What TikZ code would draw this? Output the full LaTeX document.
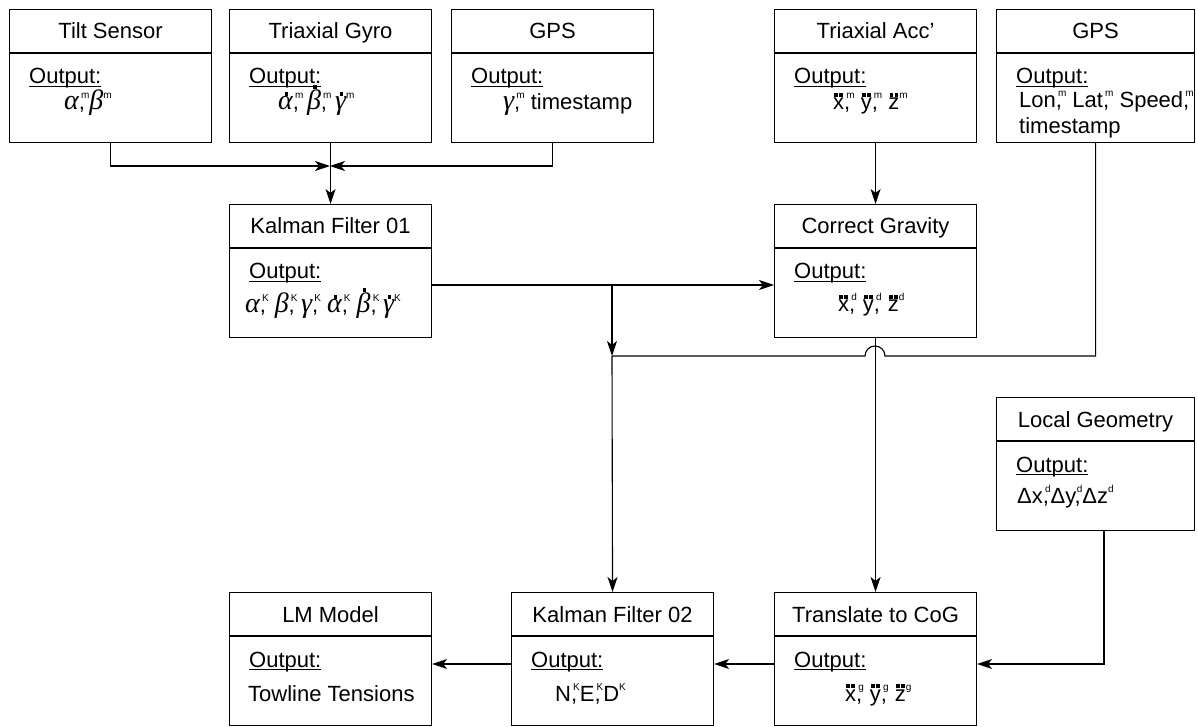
\documentclass[tikz,border=0pt]{standalone}
\usepackage{fontspec}
\setmainfont{Liberation Sans}
\newfontfamily\grkfont{Liberation Serif}
\usetikzlibrary{arrows.meta}
\newcommand\gk[1]{{\fontsize{28}{30}\selectfont\grkfont\itshape #1}}
\newcommand\supx[1]{\raisebox{0.5em}{\fontsize{10}{10}\selectfont #1}}
\newcommand\csup[1]{,\kern-4pt\supx{#1}}
\newcommand\ulout[1]{\leavevmode\setbox0=\hbox{#1}\rlap{\rule[-2.6pt]{\wd0}{1pt}}\box0}
\newcommand\onedot[1]{\leavevmode\setbox0=\hbox{#1}\vbox{\offinterlineskip\hbox to\wd0{\hss\kern2pt\rule{3.6pt}{3.6pt}\hss}\kern1.2pt\box0}}
\newcommand\twodot[1]{\leavevmode\setbox0=\hbox{#1}\vbox{\offinterlineskip\hbox to\wd0{\hss\rule{3.6pt}{3.6pt}\kern1.4pt\rule{3.6pt}{3.6pt}\hss}\kern1.5pt\box0}}
\tikzset{
  bx/.style={draw, line width=1.1pt, minimum width=202pt, minimum height=133pt, anchor=north west, inner sep=0pt},
  ttl/.style={anchor=base, inner sep=0pt, font=\fontsize{22}{26}\selectfont},
  outl/.style={anchor=base west, inner sep=0pt, font=\fontsize{22}{26}\selectfont},
  val/.style={anchor=base west, inner sep=0pt, font=\fontsize{22}{26}\selectfont},
  conn/.style={line width=1.1pt},
  arr/.style={line width=1.1pt, -{Stealth[length=15pt, width=10pt, inset=4pt]}}
}
\newcommand\mkbox[4]{%
  \node[bx, #4] (#1) at #2 {};
  \node[ttl] (#1t) at ([yshift=-30pt]#1.north) {#3};
  \draw[conn] ([yshift=-44pt]#1.north west) -- ([yshift=-44pt]#1.north east);
  \node[outl] (#1o) at ([xshift=20pt,yshift=-75pt]#1.north west) {\ulout{Output:}};
}
\begin{document}
\begin{tikzpicture}[x=1pt,y=-1pt]
\useasboundingbox (0,0) rectangle (1197,727);
% boxes
\mkbox{ts}{(9,9)}{Tilt Sensor}{}
\mkbox{gy}{(229,9)}{Triaxial Gyro}{}
\mkbox{gpa}{(451,9)}{GPS}{}
\mkbox{acc}{(774,9)}{Triaxial Acc'}{}
\mkbox{gpb}{(996,9)}{GPS}{minimum width=198pt}
\mkbox{kfa}{(229,204)}{Kalman Filter 01}{}
\mkbox{cg}{(774,204)}{Correct Gravity}{}
\mkbox{lg}{(996,397)}{Local Geometry}{minimum width=198pt}
\mkbox{lm}{(229,592)}{LM Model}{}
\mkbox{kfb}{(511,592)}{Kalman Filter 02}{}
\mkbox{tc}{(774,592)}{Translate to CoG}{}
% values
\node[val] (tsv) at (64,110) {\gk{α}\csup{m}\gk{β}\supx{m}};
\node[val] (gyv) at (278,110) {\onedot{\gk{α}}\csup{m}\,\onedot{\gk{β}}\csup{m}\,\onedot{\gk{γ}}\supx{m}};
\node[val] (gpav) at (503,110) {\gk{γ}\csup{m} timestamp};
\node[val] (accv) at (833,110) {\twodot{x}\csup{m}\;\twodot{y}\csup{m}\;\twodot{z}\supx{m}};
\node[val] (gpbv) at (1019,108) {Lon\csup{m} Lat\csup{m} Speed\csup{m}};
\node[val] (gpbw) at (1019,134) {timestamp};
\node[val] (kfav) at (245,313) {\gk{α}\csup{K}\;\gk{β}\csup{K}\,\gk{γ}\csup{K}\;\onedot{\gk{α}}\csup{K}\;\onedot{\gk{β}}\csup{K}\,\onedot{\gk{γ}}\supx{K}};
\node[val] (cgv) at (838,312) {\twodot{x}\csup{d}\;\twodot{y}\csup{d}\;\twodot{z}\supx{d}};
\node[val] (lgv) at (1017,503) {Δx\csup{d}Δy\csup{d}Δz\supx{d}};
\node[val] (lmv) at (248,701) {Towline Tensions};
\node[val] (kfbv) at (555,701) {N\csup{K}E\csup{K}D\supx{K}};
\node[val] (tcv) at (845,701) {\twodot{x}\csup{g}\;\twodot{y}\csup{g}\;\twodot{z}\supx{g}};
% connector points
\coordinate (mj) at (330,166);
\coordinate (ja) at (612,285);
\coordinate (jb) at (612,356);
\coordinate (jr) at (885,356);
\coordinate (lgc) at (1104,664);
% connectors
\draw[arr] (ts.south) |- (mj);
\draw[arr] (gpa.south) |- (mj);
\draw[arr] (gy.south) -- (kfa.north);
\draw[arr] (acc.south) -- (cg.north);
\draw[arr] (kfa.east |- ja) -- (cg.west |- ja);
\draw[arr] (ja) -- (jb);
\draw[arr] (jb) -- (kfb.north);
\draw[conn] (gpb.south) |- (jr) arc[start angle=0, end angle=180, radius=10pt] -- (jb);
\draw[arr] (cg.south) -- (tc.north);
\draw[arr] (lg.south -| lgc) -- (lgc) -- (tc.east |- lgc);
\draw[arr] (tc.west |- lgc) -- (kfb.east |- lgc);
\draw[arr] (kfb.west |- lgc) -- (lm.east |- lgc);
\end{tikzpicture}
\end{document}
